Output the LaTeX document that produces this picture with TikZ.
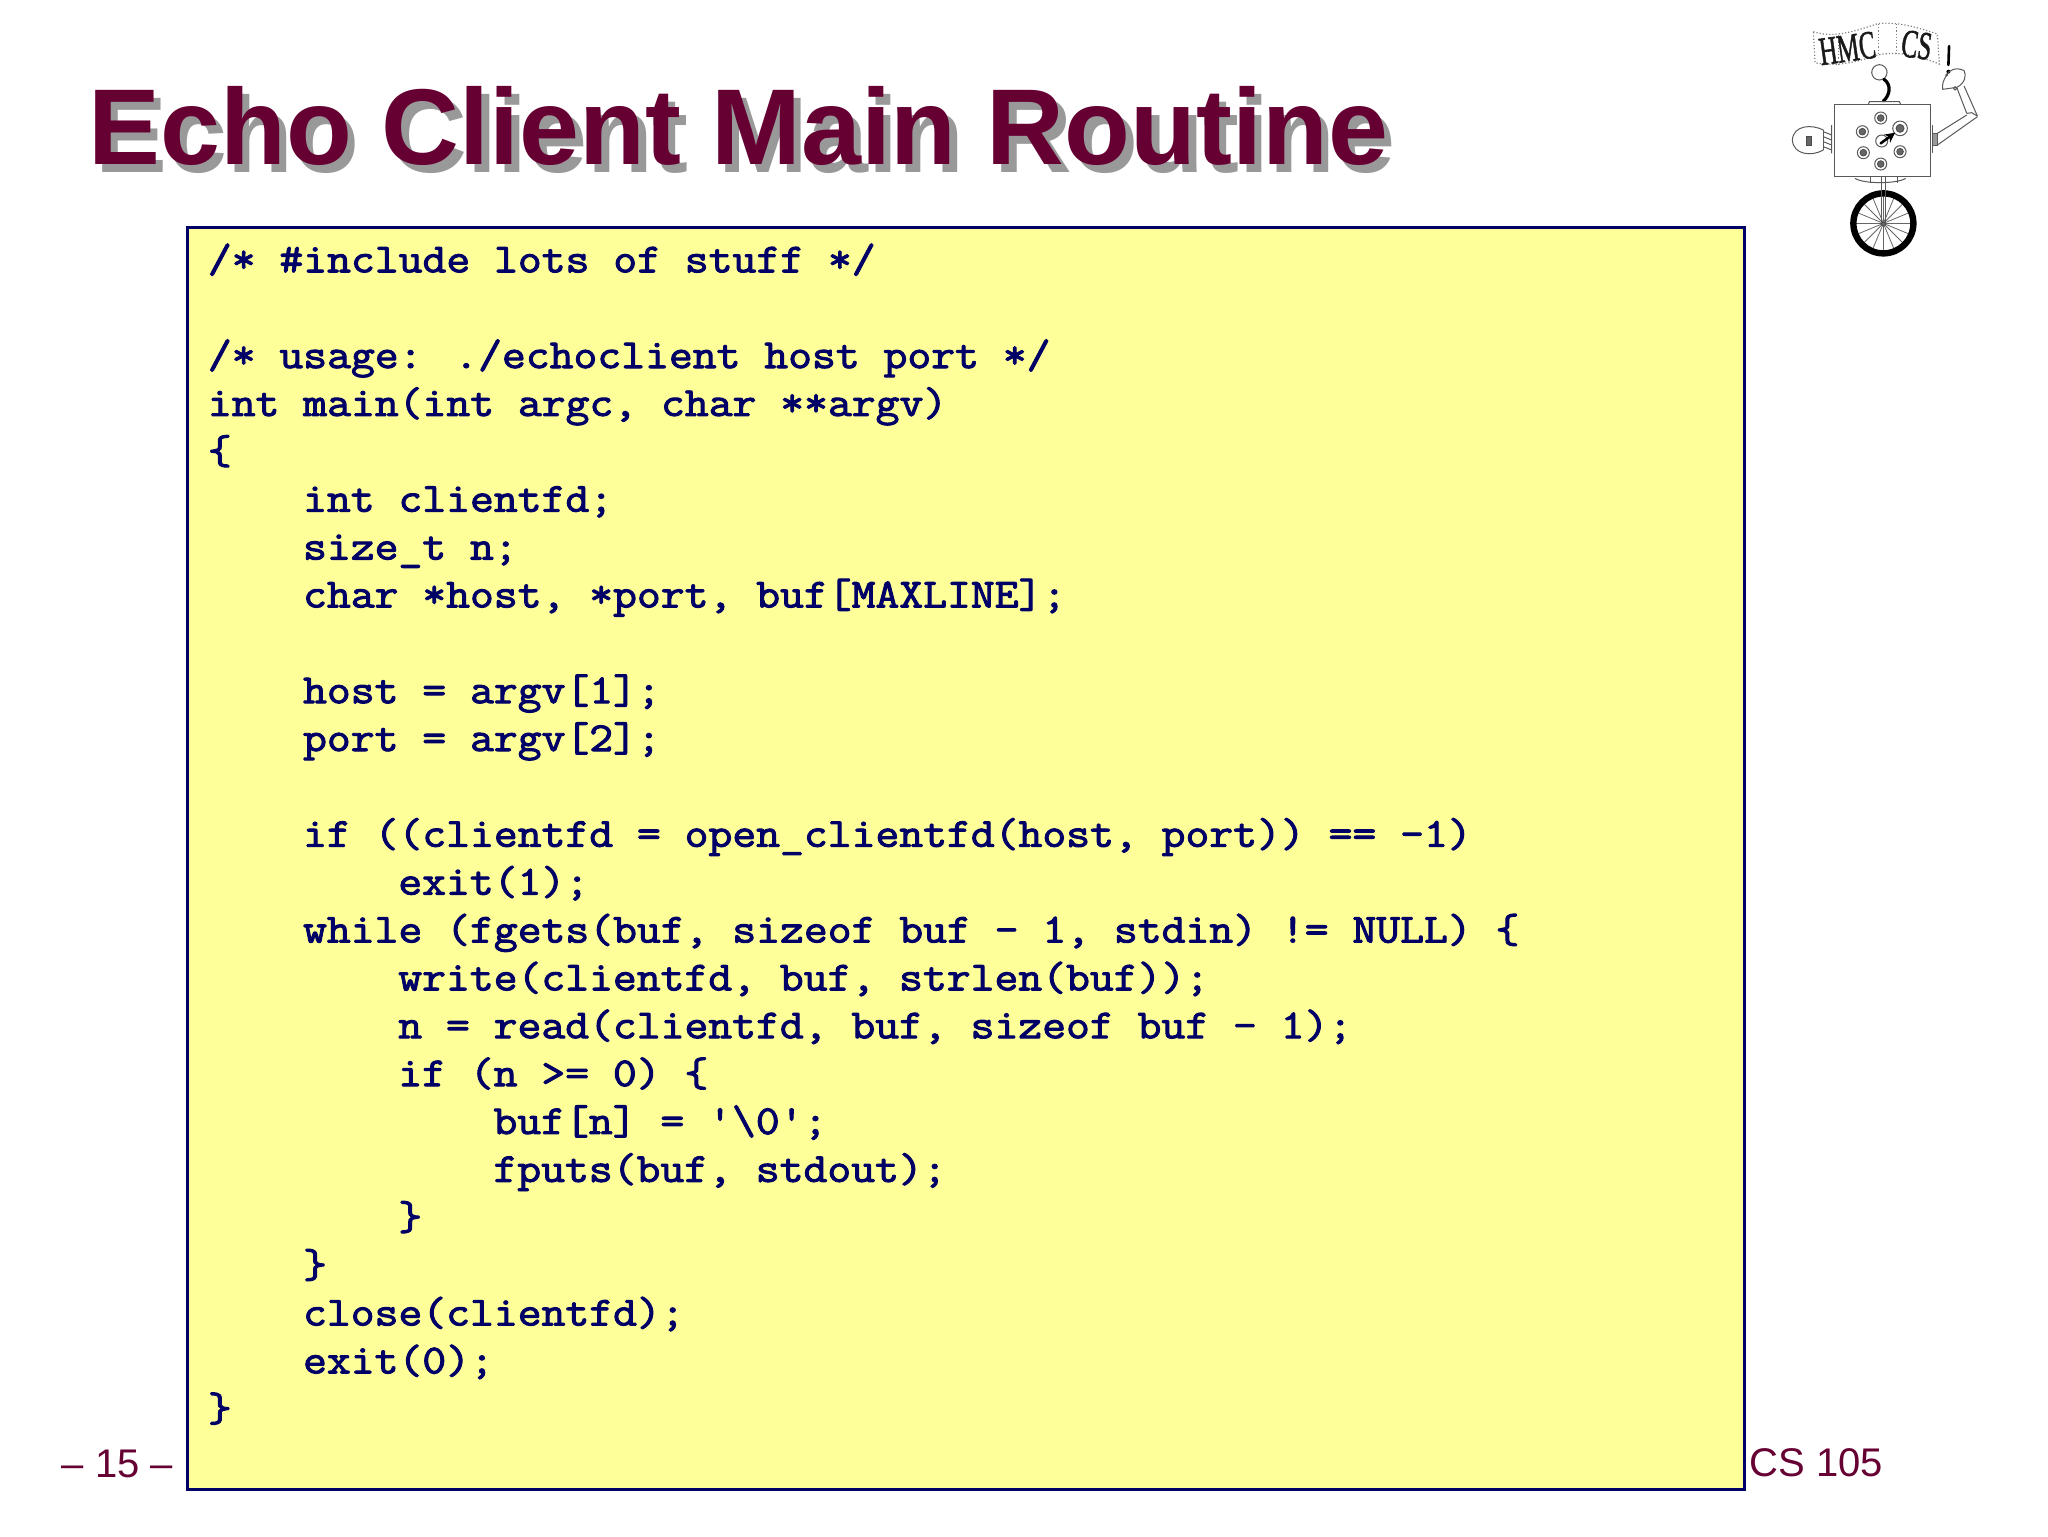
\documentclass[tikz,border=0pt]{standalone}
\usepackage{fontspec}
\usetikzlibrary{arrows.meta}
\setmainfont{Liberation Sans}
\newfontfamily\titlefont{Liberation Sans}[BoldFont={Liberation Sans Bold}]
\newfontfamily\codefont{Latin Modern Mono}[FakeBold=2.4,FakeStretch=1.124]
\newfontfamily\logofont{Liberation Serif}[FakeBold=1.5]
\definecolor{maroonT}{HTML}{660033}
\definecolor{shadowT}{HTML}{999999}
\definecolor{navyC}{HTML}{000066}
\definecolor{yellowC}{HTML}{FFFF99}
\tikzset{
  titletext/.style={anchor=base west,inner sep=0pt,font=\titlefont\bfseries\fontsize{53.9}{60}\selectfont},
  foottext/.style={inner sep=0pt,text=maroonT,font=\fontsize{20}{24}\selectfont},
  codebox/.style={draw=navyC,line width=1.6pt,fill=yellowC,inner sep=0pt,minimum width=778.5pt,minimum height=631pt},
  codeline/.style={anchor=base west,inner sep=0pt,text=navyC,font=\codefont\fontsize{20.6}{24}\selectfont},
  logoline/.style={draw=black!65,line width=.5pt},
  logodots/.style={draw=black!50,line width=.6pt,densely dotted},
  logoink/.style={draw=black,line width=1.3pt,line cap=round},
  dial/.style={draw=black!70,fill=black!60,line width=.4pt},
  logotext/.style={inner sep=0pt,text=black!90,font=\logofont\fontsize{20}{24}\selectfont}
}
\newcommand\codeln[3]{\node[codeline] (c#1) at ({207.5+#2*23.8},{272.3+#1*47.87}) {#3};}
\begin{document}
\begin{tikzpicture}[x=.5pt,y=-.5pt]
\useasboundingbox (0,0) rectangle (2048,1536);
% footer
\node[foottext,anchor=base west] (pagenum) at (61.5,1477) {– 15 –};
\node[foottext,anchor=base west] (course) at (1749,1476) {CS 105};
% title
\node[titletext,text=shadowT] (titleshadow) at (95.5,172) {Echo Client Main Routine};
\node[titletext,text=maroonT] (title) at (88,164) {Echo Client Main Routine};
% box
\node[codebox] (box) at (966,858.5) {};
% code
\codeln{0}{0}{/* \#include lots of stuff */}
\codeln{2}{0}{/* usage: ./echoclient host port */}
\codeln{3}{0}{int main(int argc, char **argv)}
\codeln{4}{0}{\{}
\codeln{5}{4}{int clientfd;}
\codeln{6}{4}{size\_t n;}
\codeln{7}{4}{char *host, *port, buf[MAXLINE];}
\codeln{9}{4}{host = argv[1];}
\codeln{10}{4}{port = argv[2];}
\codeln{12}{4}{if ((clientfd = open\_clientfd(host, port)) == -1)}
\codeln{13}{8}{exit(1);}
\codeln{14}{4}{while (fgets(buf, sizeof buf - 1, stdin) != NULL) \{}
\codeln{15}{8}{write(clientfd, buf, strlen(buf));}
\codeln{16}{8}{n = read(clientfd, buf, sizeof buf - 1);}
\codeln{17}{8}{if (n >= 0) \{}
\codeln{18}{12}{buf[n] = '\textbackslash 0';}
\codeln{19}{12}{fputs(buf, stdout);}
\codeln{20}{8}{\}}
\codeln{21}{4}{\}}
\codeln{22}{4}{close(clientfd);}
\codeln{23}{4}{exit(0);}
\codeln{24}{0}{\}}
% logo
\begin{scope}[shift={(1740,0)},x=.1667pt,y=-.1667pt]
  % banner
  \draw[logodots] (220,95) .. controls (280,115) and (340,95) .. (410,72) .. controls (470,62) and (540,85) .. (592,102) -- (598,192) .. controls (540,170) and (470,150) .. (410,166) .. controls (340,190) and (280,200) .. (225,188) -- cycle;
  \draw[logodots] (415,72) -- (415,166) (470,72) -- (470,160) (295,105) -- (295,195);
  \node[logotext,rotate=8,xscale=.62] (hmc) at (322,145) {HMC};
  \node[logotext,rotate=-8,xscale=.62] (cs) at (530,135) {CS};
  \draw[logoink] (627,138) -- (625,195);
  \fill (625,215) circle (6);
  % head
  \draw[logoline] (418,217) circle (23);
  \draw[logoink,line width=1.6pt] (432,238) .. controls (455,255) and (450,285) .. (430,303);
  % body
  \draw[logoline] (283,313) rectangle (570,528);
  \draw[logoline] (385,313) -- (388,305) -- (478,305) -- (482,313);
  \foreach \dx/\dy in {422/354,367/395,370/458,480/455,422/492}{
    \draw[logoline] (\dx,\dy) circle (18);
    \draw[dial] (\dx,\dy) circle (10);
  }
  \draw[logoline] (480,385) circle (22);
  \draw[dial] (480,385) circle (12);
  \draw[logoline] (425,423) circle (18);
  \draw[logoink,-{Stealth[length=5pt,width=5pt]}] (422,430) -- (465,398);
  % bulb
  \draw[logoline] (250,390) .. controls (215,372) and (160,375) .. (157,420) .. controls (160,465) and (215,470) .. (250,450);
  \draw[logoline] (250,390) -- (250,450);
  \draw[dial] (198,410) rectangle (215,435);
  \draw[logoline] (250,395) -- (275,405) (250,410) -- (275,420) (250,425) -- (275,435) (250,440) -- (275,450) (275,375) -- (275,460);
  % arm
  \draw[logoline] (578,375) -- (578,460);
  \draw[logoline,fill=black!40] (578,400) rectangle (592,435);
  \draw[logoline] (592,400) -- (680,345) (592,435) -- (712,350) (680,340) -- (650,262) (712,348) -- (672,258);
  \draw[logoline] (680,340) -- (695,338) -- (712,348);
  \draw[logoline] (620,225) .. controls (610,240) and (605,255) .. (608,268) -- (650,262) .. controls (675,250) and (680,225) .. (672,212) .. controls (650,200) and (625,210) .. (620,225);
  \draw[logoline] (620,225) circle (3) (645,265) circle (5);
  % wheel
  \foreach \a in {0,22.5,...,337.5}{\draw[draw=black!60,line width=.4pt] (430,670) -- ++(\a:90);}
  \draw[draw=black,line width=3.2pt] (430,670) circle (90);
  \draw[dial] (430,672) circle (6);
  \draw[logoline] (425,530) -- (425,670) (435,530) -- (435,670);
  \draw[logoline] (345,535) .. controls (370,552) and (470,552) .. (497,535);
  \draw[logoline] (392,530) -- (392,550) (472,530) -- (472,548);
\end{scope}
\end{tikzpicture}
\end{document}
